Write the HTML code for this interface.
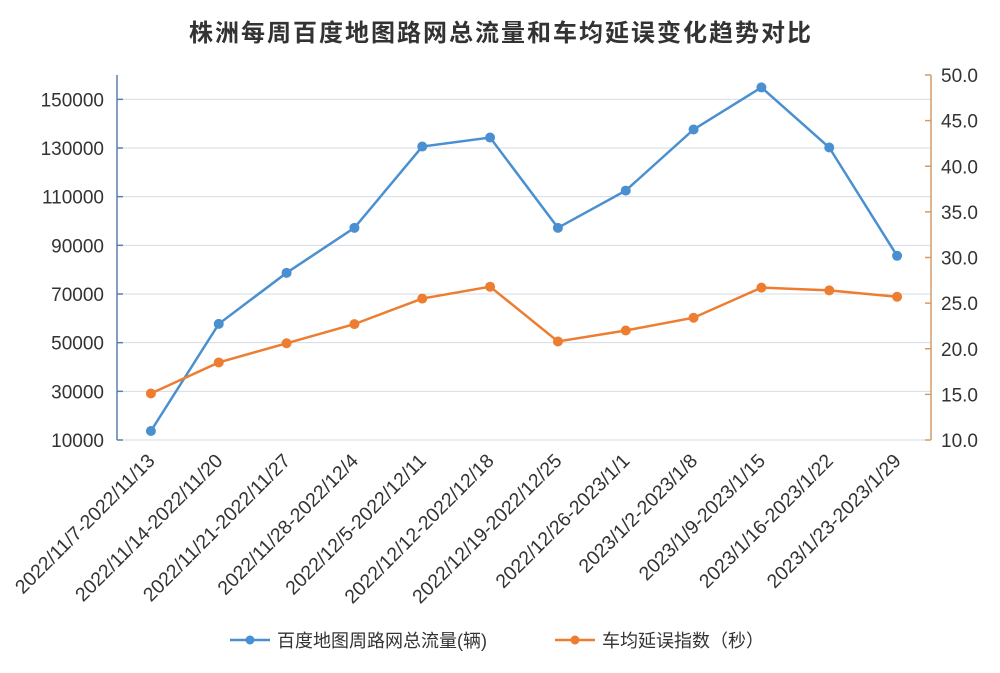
<!DOCTYPE html>
<html><head><meta charset="utf-8"><style>
body{margin:0;background:#fff;}
svg{display:block;font-family:"Liberation Sans","Noto Sans CJK SC",sans-serif;}
</style></head><body>
<svg id="c" width="1000" height="673">
<text x="501" y="41" text-anchor="middle" font-size="24" letter-spacing="2" font-weight="bold" fill="#333">株洲每周百度地图路网总流量和车均延误变化趋势对比</text>
<g id="grid"></g><g id="axes"></g><g id="series"></g>
<g>
<g>
<line x1="230" y1="640" x2="270" y2="640" stroke="#4a90d0" stroke-width="2.5"/><circle cx="250" cy="640" r="4.5" fill="#4a90d0"/>
<text x="277" y="647" font-size="18" fill="#333">百度地图周路网总流量(辆)</text></g>
<g>
<line x1="555" y1="640" x2="595" y2="640" stroke="#ed7d31" stroke-width="2.5"/><circle cx="575" cy="640" r="4.5" fill="#ed7d31"/>
<text x="602" y="647" font-size="18" fill="#333">车均延误指数（秒）</text></g>
</g>
</svg>
<script>
const categories=["2022/11/7-2022/11/13","2022/11/14-2022/11/20","2022/11/21-2022/11/27","2022/11/28-2022/12/4","2022/12/5-2022/12/11","2022/12/12-2022/12/18","2022/12/19-2022/12/25","2022/12/26-2023/1/1","2023/1/2-2023/1/8","2023/1/9-2023/1/15","2023/1/16-2023/1/22","2023/1/23-2023/1/29"];
const flowValues=[13700,57700,78700,97200,130600,134300,97200,112500,137600,154900,130200,85700];
const delayValues=[15.1,18.5,20.6,22.7,25.5,26.8,20.8,22.0,23.4,26.7,26.4,25.7];
const leftTicks=[10000,30000,50000,70000,90000,110000,130000,150000];
const rightTicks=[10.0,15.0,20.0,25.0,30.0,35.0,40.0,45.0,50.0];
const NS="http://www.w3.org/2000/svg";
const L=117,R=931,T=75,B=440;
const x=i=>L+(R-L)/categories.length*(i+0.5);
const yL=v=>B-(v-10000)/(160000-10000)*(B-T);
const yR=v=>B-(v-10)/(50-10)*(B-T);
function mk(tag,attrs,parent){const e=document.createElementNS(NS,tag);for(const k in attrs)e.setAttribute(k,attrs[k]);parent.appendChild(e);return e;}
const grid=document.getElementById('grid'),axes=document.getElementById('axes'),ser=document.getElementById('series');
leftTicks.forEach(v=>{
 const g=mk('line',{x1:L,x2:R,y1:yL(v),y2:yL(v),stroke:'#d5dbe3','stroke-width':1},grid);
 
 
 mk('line',{x1:L,x2:L+6,y1:yL(v),y2:yL(v),stroke:'#5b7fae','stroke-width':1.5},axes);
 const t=mk('text',{x:L-13,y:yL(v)+7,'text-anchor':'end','font-size':19,fill:'#333'},axes);
 t.textContent=v;
 
 
});
rightTicks.forEach(v=>{
 mk('line',{x1:R-6,x2:R,y1:yR(v),y2:yR(v),stroke:'#d49a6a','stroke-width':1.5},axes);
 const t=mk('text',{x:R+10,y:yR(v)+7,'font-size':19,fill:'#333'},axes);
 t.textContent=v.toFixed(1);
 
 
});
const la=mk('line',{x1:L,x2:L,y1:T,y2:B,stroke:'#5b7fae','stroke-width':1.5},axes);


const ra=mk('line',{x1:R,x2:R,y1:T,y2:B,stroke:'#d49a6a','stroke-width':1.5},axes);


categories.forEach((c,i)=>{
 const tx=x(i)+5,ty=B+22;
 const t=mk('text',{x:tx,y:ty,'text-anchor':'end','font-size':19.5,fill:'#333',transform:`rotate(-45 ${tx} ${ty})`},axes);
 t.textContent=c;
 
 
});
function series(vals,yf,color,name){
 const p=mk('polyline',{points:vals.map((v,i)=>x(i)+','+yf(v)).join(' '),fill:'none',stroke:color,'stroke-width':2.5},ser);
 
 
 vals.forEach((v,i)=>{
  const c=mk('circle',{cx:x(i),cy:yf(v),r:5,fill:color},ser);
  
  
 });
}
series(flowValues,yL,'#4a90d0','flow');
series(delayValues,yR,'#ed7d31','delay');
</script>
</body></html>
